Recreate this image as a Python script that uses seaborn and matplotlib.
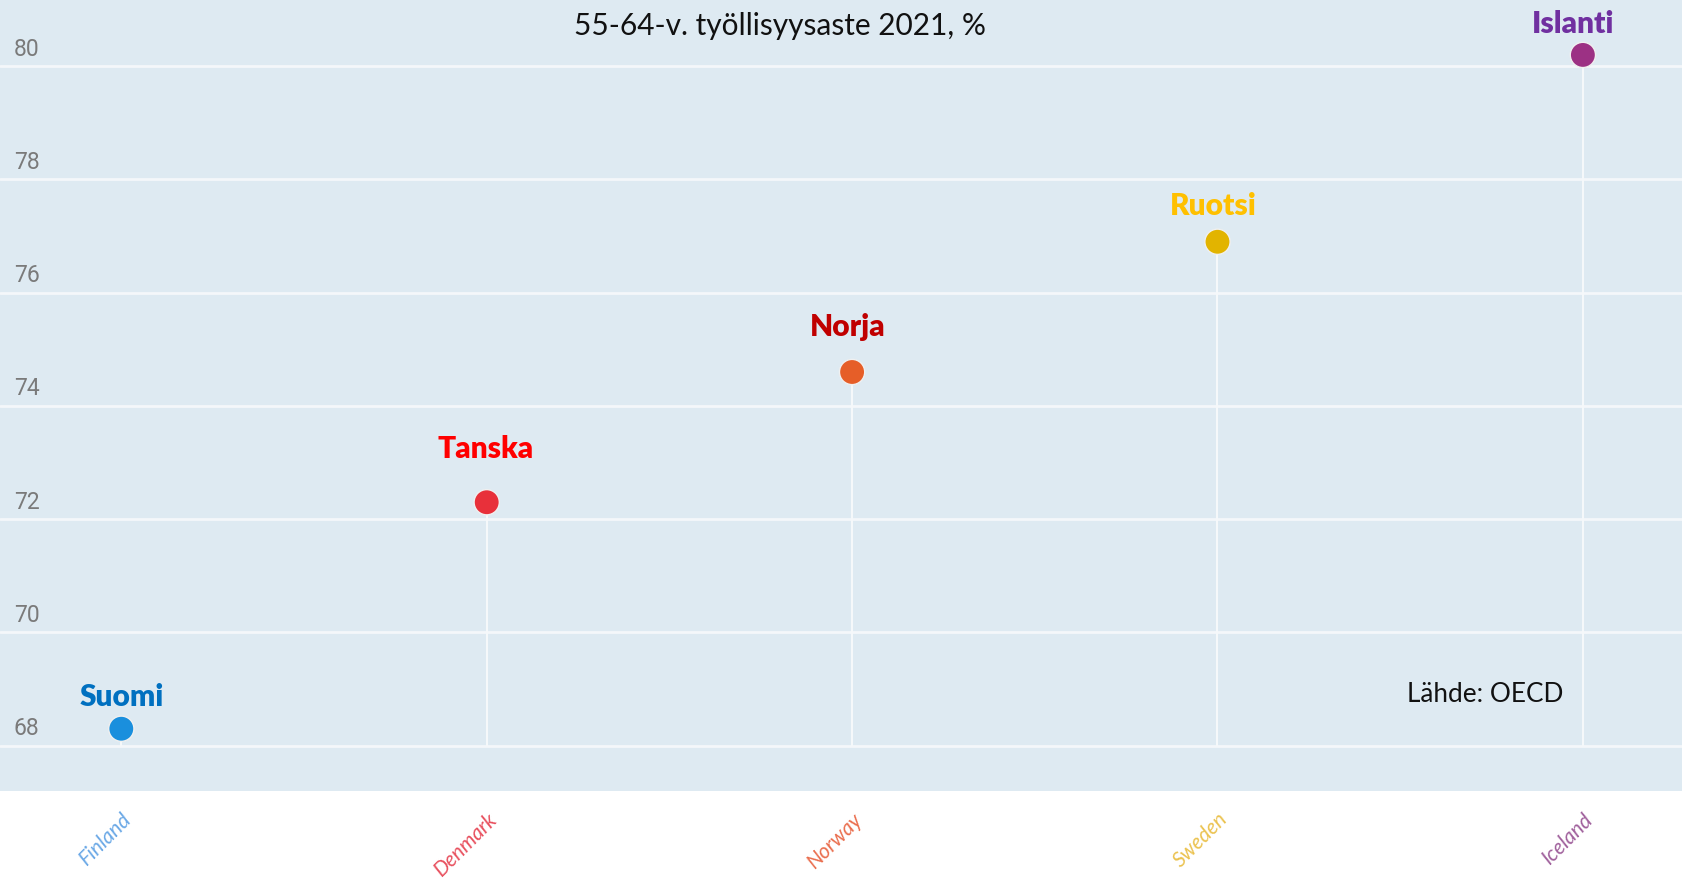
import matplotlib
matplotlib.use("Agg")
import matplotlib.pyplot as plt
import matplotlib.transforms as mtransforms
import seaborn as sns
import pandas as pd

countries = ["Finland", "Denmark", "Norway", "Sweden", "Iceland"]
labels_fi = ["Suomi", "Tanska", "Norja", "Ruotsi", "Islanti"]
values = [68.3, 72.3, 74.6, 76.9, 80.2]
yticks = [68, 70, 72, 74, 76, 78, 80]
title = "55-64-v. työllisyysaste 2021, %"
source = "Lähde: OECD"

dot_colors = ["#1A8FDD", "#E8303A", "#E65E28", "#E2B400", "#9C3184"]
label_colors = ["#0070C0", "#FF0000", "#C00000", "#FFC000", "#7030A0"]
tick_colors = ["#6AA8E6", "#E8505E", "#EA6E4E", "#EBC24E", "#A0609C"]
label_offsets = [(0, 13), (-1, 28), (-3, 22), (-3, 16), (-7, 12)]

bg = "#DEEAF2"

sns.set_theme(style="white")
plt.rcParams["font.family"] = ["Lato", "DejaVu Sans"]

fig = plt.figure(figsize=(16.83, 8.85), dpi=100)
ax = fig.add_axes([0, 94 / 885, 1, 791 / 885])
ax.set_facecolor(bg)

df = pd.DataFrame({"country": countries, "value": values})

# stems
ax.vlines(countries, yticks[0], values, color="#F6F9FB", lw=1.4, zorder=1)

sns.scatterplot(data=df, x="country", y="value", hue="country",
                palette=dict(zip(countries, dot_colors)), s=330,
                edgecolor="#F0F0F0", linewidth=1.0, legend=False, ax=ax, zorder=3)

ax.set_xlim(-0.332, 4.274)
ax.set_ylim(67.2, 81.17)

# gridlines
for yv in yticks:
    ax.axhline(yv, color="#F4F7FA", lw=2.0, zorder=0.5)

for sp in ax.spines.values():
    sp.set_visible(False)

# y tick labels inside the plot
ax.set_yticks([])
trans = mtransforms.blended_transform_factory(ax.transAxes, ax.transData)
for yv in yticks:
    ax.annotate(str(yv), xy=(0, yv), xycoords=trans, xytext=(10, 4),
                textcoords="offset points", ha="left", va="bottom",
                fontsize=16.5, color="#7A7A7A",
                family=["Liberation Sans Narrow", "Roboto", "DejaVu Sans"])

# country labels above dots
for c, lab, v, col, off in zip(countries, labels_fi, values, label_colors, label_offsets):
    ax.annotate(lab, xy=(c, v), xytext=off, textcoords="offset points",
                ha="center", va="bottom", fontsize=21.5, fontweight="heavy",
                color=col)

# x tick labels
ax.set_xticks(range(len(countries)))
ax.set_xticklabels(countries, rotation=45, ha="right", rotation_mode="anchor",
                   fontsize=15, style="italic")
shift = mtransforms.ScaledTranslation(12 / 100, 0, fig.dpi_scale_trans)
for t, col in zip(ax.get_xticklabels(), tick_colors):
    t.set_color(col)
    t.set_transform(t.get_transform() + shift)
ax.tick_params(axis="x", length=0, pad=13)
ax.set_xlabel("")
ax.set_ylabel("")

ax.text(0.4635, 0.985, title, transform=ax.transAxes, ha="center", va="top",
        fontsize=21.5, color="#111111")
ax.text(0.929, 68.9, source, transform=trans, ha="right", va="center",
        fontsize=18.8, color="#111111")

fig.savefig("out.png", dpi=100, facecolor="white")
